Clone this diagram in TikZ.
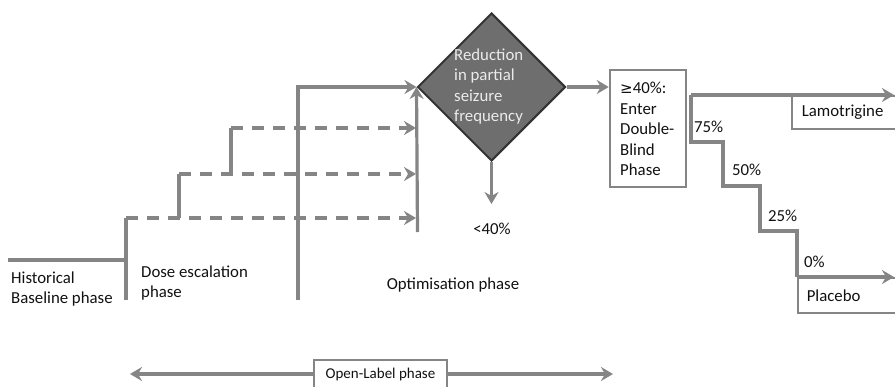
\documentclass[tikz,border=0pt]{standalone}
\usepackage{fontspec}
\setmainfont{Carlito}
\newfontfamily\symfont{DejaVu Sans}
\usetikzlibrary{shapes.geometric,arrows.meta}
\definecolor{lnc}{HTML}{858585}
\definecolor{dfill}{HTML}{6E6E6E}
\definecolor{dline}{HTML}{333333}
\definecolor{txt}{HTML}{111111}
\begin{document}
\begin{tikzpicture}[x=1pt,y=-1pt,
  font=\fontsize{16.8}{20.6}\selectfont,
  ln/.style={draw=lnc, line width=3.2pt},
  arr/.style={ln, -{Stealth[length=12pt,width=14pt,inset=4pt]}},
  dsh/.style={dash pattern=on 12pt off 9pt},
  lbl/.style={text=txt, inner sep=0pt, align=left},
  gbox/.style={draw=lnc, line width=2.5pt, fill=white}]
\useasboundingbox (0,0) rectangle (895,386);

% decision diamond
\node[diamond, aspect=1, draw=dline, line width=2pt, fill=dfill,
      minimum width=148pt, minimum height=148pt, inner sep=0pt] (d) at (491.5,87) {};
\node[lbl, text=white!92!black, anchor=west] (dtext) at (454,86.5)
  {Reduction\\in partial\\seizure\\frequency};

% double blind box
\node[gbox, minimum width=76pt, minimum height=117pt, inner sep=0pt] (db) at (648,128.5) {};
\node[lbl, anchor=west] (dbtext) at (620,129)
  {{\symfont\fontsize{15}{20.6}\selectfont ≥}40\%:\\Enter\\Double-\\Blind\\Phase};

% coordinates
\coordinate (hb0) at (8,260);
\coordinate (hb1) at (126,260);
\coordinate (v1b) at (126,300);
\coordinate (v1t) at (126,218);
\coordinate (a1) at (416,218);
\coordinate (v2b) at (179,218);
\coordinate (v2t) at (179,174);
\coordinate (a2) at (416,174);
\coordinate (v3b) at (231,174);
\coordinate (v3t) at (231,128);
\coordinate (a3) at (416,128);
\coordinate (v4b) at (298,300);
\coordinate (v5b) at (417.5,232);
\coordinate (lt) at (491.5,204);
\coordinate (br) at (691,95);
\coordinate (s1) at (691,142);
\coordinate (s2) at (723,186);
\coordinate (s3) at (760,231);
\coordinate (s4) at (797,277);
\coordinate (e1) at (894,95);
\coordinate (e2) at (894,277);
\coordinate (olL) at (130,374);
\coordinate (olR) at (613,374);

% left part
\draw[ln] (hb0) -- (hb1);
\draw[ln] (v1b) -- (v1t);
\draw[arr, dsh] (v1t) -- (a1);
\draw[ln] (v2b) -- (v2t);
\draw[arr, dsh] (v2t) -- (a2);
\draw[ln] (v3b) -- (v3t);
\draw[arr, dsh] (v3t) -- (a3);
\draw[arr] (v4b) |- (d.west);
\draw[arr] (v5b) -- (d.west);
\draw[arr] (d.south) -- (lt);
\draw[arr] (d.east) -- (d.east -| db.west);

% text labels
\node[lbl, anchor=west] (hist) at (11,289) {Historical\\Baseline phase};
\node[lbl, anchor=west] (dose) at (141,283) {Dose escalation\\phase};
\node[lbl] (opt) at (453,285) {Optimisation phase};
\node[lbl] (lt40) at (492,229) {<40\%};

% right part boxes
\node[gbox, line width=1.5pt, anchor=north west, minimum height=33pt, text width=100pt,
      inner xsep=10pt, inner ysep=0pt, align=left, text=txt] (lam) at (791,95) {Lamotrigine};
\node[gbox, line width=1.5pt, anchor=north west, minimum height=35pt, text width=100pt,
      inner xsep=9pt, inner ysep=0pt, align=left, text=txt] (pla) at (797,277) {Placebo};

\draw[arr] (br) -- (e1);
\draw[ln] (br) -- (s1) -| (s2) -| (s3) -| (s4);
\draw[arr] (s4) -- (e2);

\node[lbl, anchor=west] (p75) at (694,127) {75\%};
\node[lbl, anchor=west] (p50) at (732,170) {50\%};
\node[lbl, anchor=west] (p25) at (768,216) {25\%};
\node[lbl, anchor=west] (p0) at (804,262) {0\%};

% open label
\node[gbox, line width=1.5pt, minimum width=133pt, minimum height=28pt, inner sep=0pt,
      text=txt, font=\fontsize{15}{18}\selectfont] (ol) at (380.5,374) {Open-Label phase};
\draw[arr] (ol.west) -- (olL);
\draw[arr] (ol.east) -- (olR);
\end{tikzpicture}
\end{document}
